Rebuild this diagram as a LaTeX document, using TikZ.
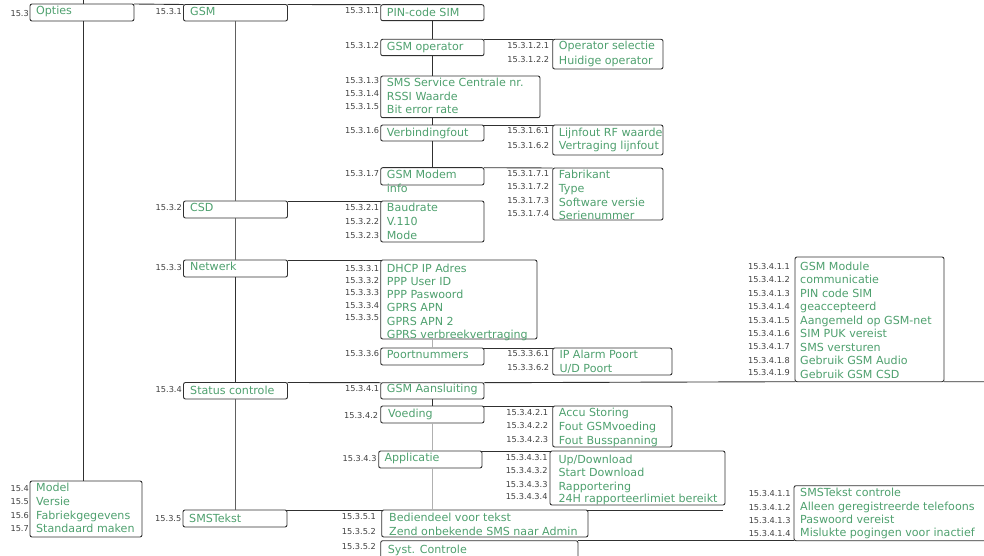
\documentclass[tikz,border=0pt]{standalone}
\usepackage{fontspec}
\setmainfont{DejaVu Sans}
\definecolor{grn}{HTML}{4EA06E}
\definecolor{numc}{HTML}{404040}
\definecolor{edgec}{HTML}{303030}
\definecolor{lgray}{HTML}{B0B0B0}
\definecolor{mgray}{HTML}{606060}
\tikzset{
  box/.style={draw=edgec, line width=0.9pt, rounded corners=2pt, inner sep=0pt, outer sep=0pt, anchor=north west},
  txt/.style={font=\fontsize{11.1}{13}\selectfont, text=grn, anchor=base west, inner sep=0pt},
  num/.style={font=\fontsize{8.2}{9}\selectfont, text=numc, anchor=base east, inner sep=0pt},
  ln/.style={draw=edgec, line width=0.9pt},
  lnm/.style={draw=mgray, line width=0.9pt},
  lnl/.style={draw=lgray, line width=0.7pt}
}
\newcommand\mbx[5]{\node[box, minimum width={(#4)-(#2)}, minimum height={(#5)-(#3)}] (#1) at (#2,#3) {};}
\newcommand\mtx[4]{\node[txt] (#1) at (#2,#3) {#4};}
\newcommand\mnm[4]{\node[num] (#1) at (#2,#3) {#4};}
\begin{document}
\begin{tikzpicture}[x=1pt,y=-1pt]
\useasboundingbox (0,0) rectangle (984,556);
\clip (0,0) rectangle (984,556);
% ---------- column 1
\mbx{opties}{30}{4}{134}{21}
\mtx{t-opties}{36}{15}{Opties}
\mnm{n-opties}{29}{17}{15.3}
\mbx{model}{30}{481}{142}{537}
\mtx{t-m1}{36}{491.5}{Model}
\mtx{t-m2}{36}{505.3}{Versie}
\mtx{t-m3}{36}{519}{Fabriekgegevens}
\mtx{t-m4}{36}{532.7}{Standaard maken}
\mnm{n-m1}{29}{491}{15.4}
\mnm{n-m2}{29}{504.7}{15.5}
\mnm{n-m3}{29}{518}{15.6}
\mnm{n-m4}{29}{531}{15.7}
% ---------- column 2
\mbx{gsm}{183.5}{4.5}{287.5}{21}
\mtx{t-gsm}{190}{16}{GSM}
\mnm{n-gsm}{182}{15}{15.3.1}
\mbx{csd}{183.5}{201}{287.5}{218}
\mtx{t-csd}{190}{211.7}{CSD}
\mnm{n-csd}{182}{210.7}{15.3.2}
\mbx{netw}{183.5}{260}{287.5}{277}
\mtx{t-netw}{190}{270.7}{Netwerk}
\mnm{n-netw}{182}{270.7}{15.3.3}
\mbx{stat}{183.5}{382.5}{287.5}{399}
\mtx{t-stat}{190}{394}{Status controle}
\mnm{n-stat}{182}{392}{15.3.4}
\mbx{smst}{183}{510}{287}{527}
\mtx{t-smst}{189}{522.7}{SMSTekst}
\mnm{n-smst}{181.5}{521}{15.3.5}
% ---------- column 3
\mbx{pin}{380.7}{4.7}{484}{20.7}
\mtx{t-pin}{386.7}{16.5}{PIN-code SIM}
\mnm{n-pin}{379.3}{14}{15.3.1.1}
\mbx{gsmop}{380.7}{39.3}{484}{55.7}
\mtx{t-gsmop}{386.7}{51}{GSM operator}
\mnm{n-gsmop}{379.3}{49}{15.3.1.2}
\mbx{sms}{380.7}{76}{540}{117.7}
\mtx{t-sms1}{386.7}{87}{SMS Service Centrale nr.}
\mtx{t-sms2}{386.7}{100.7}{RSSI Waarde}
\mtx{t-sms3}{386.7}{114}{Bit error rate}
\mnm{n-sms1}{379.3}{83.5}{15.3.1.3}
\mnm{n-sms2}{379.3}{96.5}{15.3.1.4}
\mnm{n-sms3}{379.3}{109.5}{15.3.1.5}
\mbx{verb}{380.7}{125}{484}{141}
\mtx{t-verb}{386.7}{136.5}{Verbindingfout}
\mnm{n-verb}{379.3}{133.5}{15.3.1.6}
\mbx{modem}{380.7}{167.7}{484}{185}
\mtx{t-modem1}{386.7}{178.5}{GSM Modem}
\mtx{t-modem2}{386.7}{192.7}{info}
\mnm{n-modem}{379.3}{177}{15.3.1.7}
\mbx{baud}{380.7}{201}{484}{242}
\mtx{t-baud1}{386.7}{211.7}{Baudrate}
\mtx{t-baud2}{386.7}{225.7}{V.110}
\mtx{t-baud3}{386.7}{239.3}{Mode}
\mnm{n-baud1}{379.3}{210.7}{15.3.2.1}
\mnm{n-baud2}{379.3}{224.3}{15.3.2.2}
\mnm{n-baud3}{379.3}{238}{15.3.2.3}
\mbx{dhcp}{380.7}{260}{537}{339}
\mtx{t-dhcp1}{386.7}{272.3}{DHCP IP Adres}
\mtx{t-dhcp2}{386.7}{285.5}{PPP User ID}
\mtx{t-dhcp3}{386.7}{298.7}{PPP Paswoord}
\mtx{t-dhcp4}{386.7}{311.9}{GPRS APN}
\mtx{t-dhcp5}{386.7}{325.1}{GPRS APN 2}
\mtx{t-dhcp6}{386.7}{338.3}{GPRS verbreekvertraging}
\mnm{n-dhcp1}{379.3}{271.7}{15.3.3.1}
\mnm{n-dhcp2}{379.3}{283.7}{15.3.3.2}
\mnm{n-dhcp3}{379.3}{295.5}{15.3.3.3}
\mnm{n-dhcp4}{379.3}{308.3}{15.3.3.4}
\mnm{n-dhcp5}{379.3}{320.5}{15.3.3.5}
\mbx{poort}{380.7}{348}{484}{365}
\mtx{t-poort}{386.7}{358.3}{Poortnummers}
\mnm{n-poort}{379.3}{356.7}{15.3.3.6}
\mbx{gsma}{380.7}{382.7}{484}{399}
\mtx{t-gsma}{386.7}{392.7}{GSM Aansluiting}
\mnm{n-gsma}{379.3}{391.7}{15.3.4.1}
\mbx{voed}{380.7}{406}{484}{423}
\mtx{t-voed}{388}{417.3}{Voeding}
\mnm{n-voed}{378.3}{418.3}{15.3.4.2}
\mbx{appl}{378.7}{451}{482}{468}
\mtx{t-appl}{384.3}{461.7}{Applicatie}
\mnm{n-appl}{376.7}{461.7}{15.3.4.3}
\mbx{bedien}{381.7}{510}{588}{537}
\mtx{t-bed1}{389}{521.7}{Bediendeel voor tekst}
\mtx{t-bed2}{389}{535}{Zend onbekende SMS naar Admin}
\mnm{n-bed1}{376}{519.3}{15.3.5.1}
\mnm{n-bed2}{376}{534}{15.3.5.2}
\mbx{syst}{380.7}{540.7}{578}{575}
\mtx{t-syst}{387.7}{553}{Syst. Controle}
\mnm{n-syst}{376}{549.3}{15.3.5.2}
% ---------- column 4
\mbx{opsel}{552.7}{39.3}{663}{69}
\mtx{t-opsel1}{558.7}{50}{Operator selectie}
\mtx{t-opsel2}{558.7}{64.3}{Huidige operator}
\mnm{n-opsel1}{549.3}{48.3}{15.3.1.2.1}
\mnm{n-opsel2}{549.3}{63}{15.3.1.2.2}
\mbx{lijn}{552.7}{125}{663}{155}
\mtx{t-lijn1}{558.7}{136.7}{Lijnfout RF waarde}
\mtx{t-lijn2}{558.7}{150}{Vertraging lijnfout}
\mnm{n-lijn1}{549.3}{134}{15.3.1.6.1}
\mnm{n-lijn2}{549.3}{148.7}{15.3.1.6.2}
\mbx{fabr}{552.7}{168}{663}{220}
\mtx{t-fabr1}{558.7}{178.3}{Fabrikant}
\mtx{t-fabr2}{558.7}{192.7}{Type}
\mtx{t-fabr3}{558.7}{206}{Software versie}
\mtx{t-fabr4}{558.7}{219.3}{Serienummer}
\mnm{n-fabr1}{549.3}{176}{15.3.1.7.1}
\mnm{n-fabr2}{549.3}{189.7}{15.3.1.7.2}
\mnm{n-fabr3}{549.3}{203}{15.3.1.7.3}
\mnm{n-fabr4}{549.3}{216.7}{15.3.1.7.4}
\mbx{ipal}{552.7}{348}{672}{375}
\mtx{t-ipal1}{559.3}{358.3}{IP Alarm Poort}
\mtx{t-ipal2}{559.3}{372.3}{U/D Poort}
\mnm{n-ipal1}{549.3}{356.7}{15.3.3.6.1}
\mnm{n-ipal2}{549.3}{370}{15.3.3.6.2}
\mbx{accu}{552.7}{406}{672}{447}
\mtx{t-accu1}{558.7}{416.7}{Accu Storing}
\mtx{t-accu2}{558.7}{430.7}{Fout GSMvoeding}
\mtx{t-accu3}{558.7}{444.3}{Fout Busspanning}
\mnm{n-accu1}{548.3}{415}{15.3.4.2.1}
\mnm{n-accu2}{548.3}{428.7}{15.3.4.2.2}
\mnm{n-accu3}{548.3}{442.3}{15.3.4.2.3}
\mbx{updl}{550}{451}{725}{505}
\mtx{t-updl1}{558.3}{463.3}{Up/Download}
\mtx{t-updl2}{558.3}{476.7}{Start Download}
\mtx{t-updl3}{558.3}{490.7}{Rapportering}
\mtx{t-updl4}{558.3}{502.7}{24H rapporteerlimiet bereikt}
\mnm{n-updl1}{547.7}{460}{15.3.4.3.1}
\mnm{n-updl2}{547.7}{473.3}{15.3.4.3.2}
\mnm{n-updl3}{547.7}{487}{15.3.4.3.3}
\mnm{n-updl4}{547.7}{499.7}{15.3.4.3.4}
% ---------- column 5
\mbx{gsmmod}{795}{257}{944}{381.7}
\mtx{t-gm1}{800}{270}{GSM Module}
\mtx{t-gm2}{800}{283.5}{communicatie}
\mtx{t-gm3}{800}{297}{PIN code SIM}
\mtx{t-gm4}{800}{310.5}{geaccepteerd}
\mtx{t-gm5}{800}{324}{Aangemeld op GSM-net}
\mtx{t-gm6}{800}{337.5}{SIM PUK vereist}
\mtx{t-gm7}{800}{351}{SMS versturen}
\mtx{t-gm8}{800}{364.5}{Gebruik GSM Audio}
\mtx{t-gm9}{800}{378}{Gebruik GSM CSD}
\mnm{n-gm1}{790}{269}{15.3.4.1.1}
\mnm{n-gm2}{790}{282.5}{15.3.4.1.2}
\mnm{n-gm3}{790}{296}{15.3.4.1.3}
\mnm{n-gm4}{790}{309.5}{15.3.4.1.4}
\mnm{n-gm5}{790}{323}{15.3.4.1.5}
\mnm{n-gm6}{790}{336}{15.3.4.1.6}
\mnm{n-gm7}{790}{349.5}{15.3.4.1.7}
\mnm{n-gm8}{790}{363}{15.3.4.1.8}
\mnm{n-gm9}{790}{375.5}{15.3.4.1.9}
\mbx{smsctl}{794}{485.7}{995}{540.7}
\mtx{t-sc1}{800}{496.7}{SMSTekst controle}
\mtx{t-sc2}{800}{510}{Alleen geregistreerde telefoons}
\mtx{t-sc3}{800}{523.3}{Paswoord vereist}
\mtx{t-sc4}{800}{536.5}{Mislukte pogingen voor inactief}
\mnm{n-sc1}{790.7}{496.7}{15.3.4.1.1}
\mnm{n-sc2}{790.7}{510}{15.3.4.1.2}
\mnm{n-sc3}{790.7}{523.3}{15.3.4.1.3}
\mnm{n-sc4}{790.7}{536.5}{15.3.4.1.4}
% ---------- free ends
\coordinate (c0) at (83,0);
\coordinate (r1) at (984,381.7);
\coordinate (r2) at (723,510);
% ---------- connectors
\draw[ln] (c0) -- (c0 |- opties.north);
\draw[ln] (c0 |- opties.south) -- (c0 |- model.north);
\draw[ln] (opties.north east) -- (gsm.north west);
\draw[ln] (gsm.north east) -- (pin.north west);
\draw[lnm] (gsm.south) -- (gsm.south |- csd.north);
\draw[lnm] (gsm.south |- csd.south) -- (gsm.south |- netw.north);
\draw[ln] (gsm.south |- netw.south) -- (gsm.south |- stat.north);
\draw[lnm] (gsm.south |- stat.south) -- (gsm.south |- smst.north);
\draw[ln] (csd.north east) -- (baud.north west);
\draw[ln] (netw.north east) -- (dhcp.north west);
\draw[ln] (stat.north east) -- (gsma.north west);
\draw[ln] (smst.north east) -- (bedien.north west);
\draw[ln] (pin.south) -- (gsmop.north);
\draw[ln] (gsmop.south) -- (gsmop.south |- sms.north);
\draw[ln] (gsmop.south |- sms.south) -- (verb.north);
\draw[ln] (verb.south) -- (modem.north);
\draw[lnl] (poort.north |- dhcp.south) -- (poort.north);
\draw[ln] (gsma.south) -- (voed.north);
\draw[lnl] (voed.south) -- (voed.south |- appl.north);
\draw[lnl] (voed.south |- appl.south) -- (voed.south |- r2);
\draw[ln] (gsmop.north east) -- (opsel.north west);
\draw[ln] (verb.north east) -- (lijn.north west);
\draw[ln] (modem.north east) -- (fabr.north west);
\draw[ln] (poort.north east) -- (ipal.north west);
\draw[ln] (voed.north east) -- (accu.north west);
\draw[ln] (appl.north east) -- (updl.north west);
\draw[ln] (gsma.north east) -- (gsmmod.south west);
\draw[ln] (gsmmod.south east) -- (r1);
\draw[ln] (bedien.north east) -- (r2);
\draw[ln] (syst.north east) -- (smsctl.south west);
\end{tikzpicture}
\end{document}
